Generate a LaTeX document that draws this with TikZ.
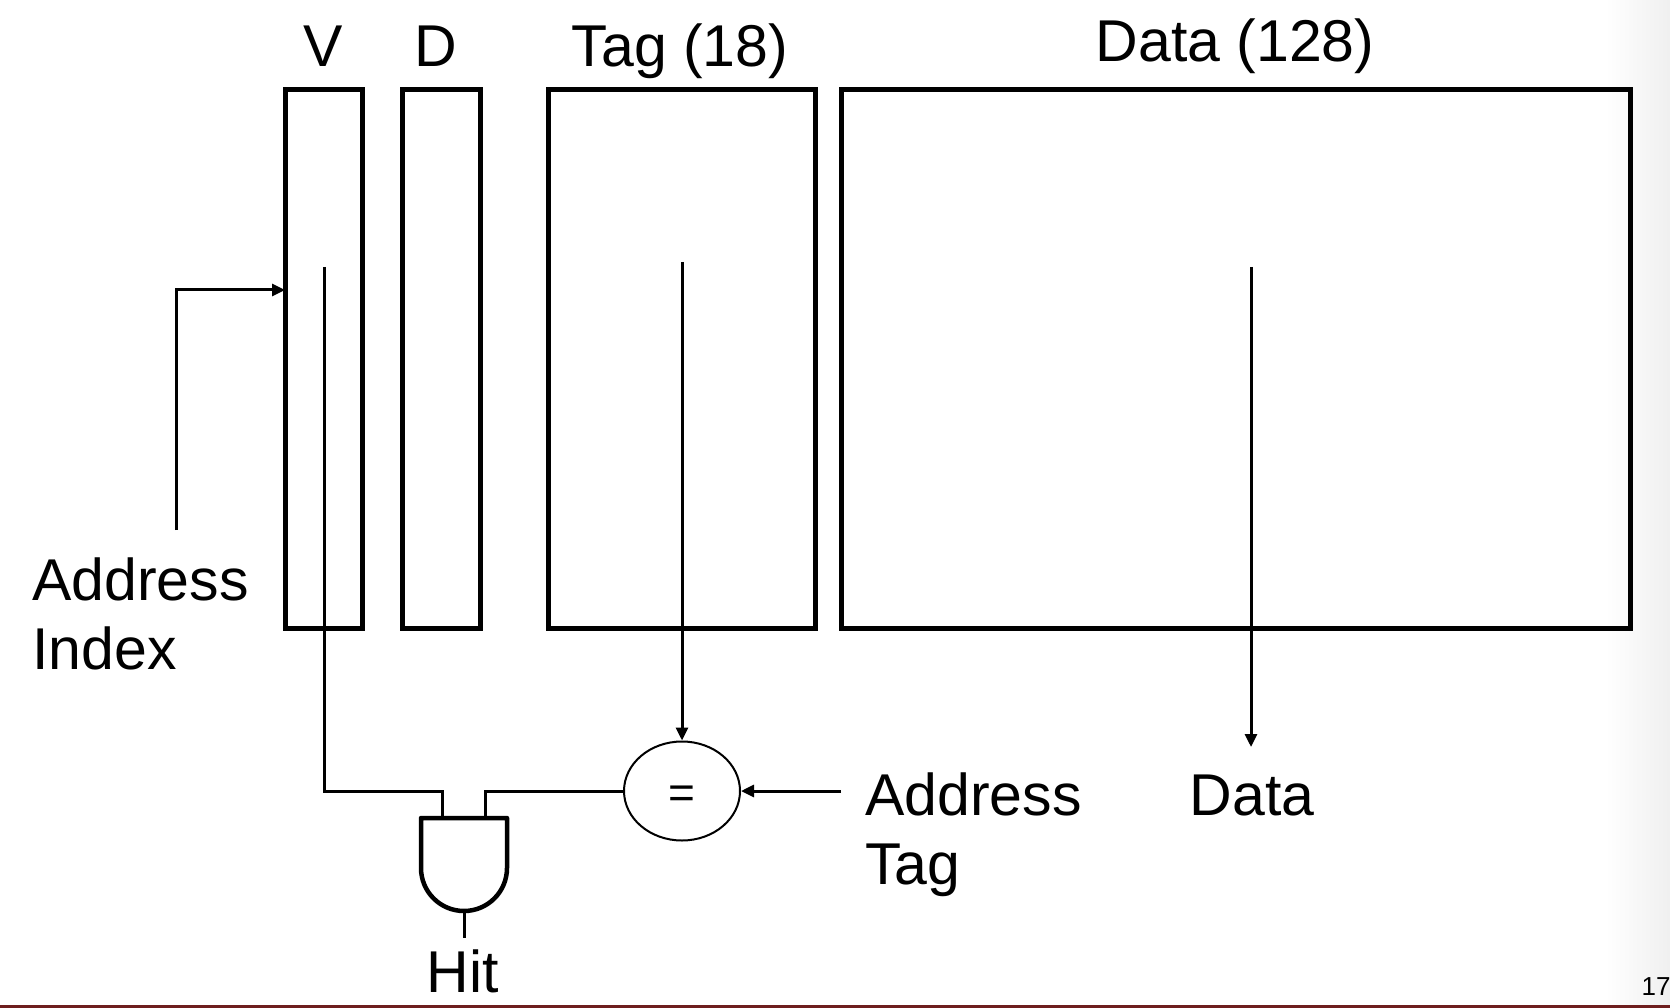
\documentclass[tikz,border=0pt]{standalone}
\usepackage{fontspec}
\setmainfont{Liberation Sans}
\usetikzlibrary{positioning,shapes.geometric,arrows.meta}

\definecolor{slidered}{RGB}{110,30,30}

\tikzset{
  membox/.style={draw, line width=5pt, minimum height=539pt, inner sep=0pt},
  wire/.style={line width=3pt},
  tip/.style={-{Triangle[length=13pt,width=12pt]}},
  lbl/.style={font=\fontsize{59}{69}\selectfont, inner sep=0pt, anchor=base},
  lblw/.style={lbl, anchor=base west}
}

\begin{document}
\begin{tikzpicture}[x=1pt,y=-1pt]
  \useasboundingbox (0,0) rectangle (1670,1008);
  \fill[white] (0,0) rectangle (1670,1008);
  \shade[left color=white, right color=black!6] (1605,0) rectangle (1670,1005);
  \fill[slidered] (0,1005) rectangle (1670,1008);

  % Draw the four columns of the cache
  \node[membox, minimum width=77pt] (vcol) at (323.5,359) {};
  \node[membox, minimum width=78pt] (dcol) at (441,359) {};
  \node[membox, minimum width=267pt] (tagcol) at (682,359) {};
  \node[membox, minimum width=789pt] (datacol) at (1235.5,359) {};

  % Column headers
  \node[lbl] (vlbl) at (323,67) {V};
  \node[lbl] (dlbl) at (436,67) {D};
  \node[lbl] (taglbl) at (680,67) {Tag (18)};
  \node[lbl] (datalbl) at (1235,62) {Data (128)};

  % Address index into the selected row
  \node[lblw] (idx1) at (32,600) {Address};
  \node[lblw] (idx2) at (32,669) {Index};
  \coordinate (idxfoot) at (176,530);
  \coordinate (idxin) at (285,290);
  \draw[wire, tip] (idxfoot) |- (idxin);

  % Tag compare
  \node[draw, ellipse, line width=2pt, minimum width=116pt, minimum height=99pt,
        inner sep=0pt] (eq) at (682,791) {};
  \node[inner sep=0pt, font=\fontsize{46}{46}\selectfont] (eqsign) at (682,797) {=};
  \coordinate (tagrow) at (682,262);
  \draw[wire, tip] (tagrow) -- (eq.north);
  \node[lblw] (atag1) at (865,815) {Address};
  \node[lblw] (atag2) at (865,884) {Tag};
  \coordinate (atagin) at (841,791);
  \draw[wire, tip] (atagin) -- (eq.east);

  % Data out
  \coordinate (datarow) at (1251,267);
  \coordinate (dataend) at (1251,747);
  \draw[wire, tip] (datarow) -- (dataend);
  \node[lbl] (dataout) at (1252,815) {Data};

  % AND gate for hit
  \draw[line width=4.5pt, line join=round] (421,818) -- (507,818) -- (507,868)
    arc[start angle=0, end angle=180, radius=43] -- cycle;
  \coordinate (gin1) at (442,818);
  \coordinate (gin2) at (485,818);
  \coordinate (gout) at (464,911);
  \coordinate (vrow) at (324,267);
  \draw[wire] (vrow) |- (442,791) -- (gin1);
  \draw[wire] (gin2) |- (eq.west);
  \node[lbl] (hit) at (463,992) {Hit};
  \coordinate (hitend) at (464,938);
  \draw[wire] (gout) -- (hitend);

  % Slide number
  \node[inner sep=0pt, anchor=base, font=\fontsize{26}{26}\selectfont] (pgnum) at (1656,995) {17};
\end{tikzpicture}
\end{document}
